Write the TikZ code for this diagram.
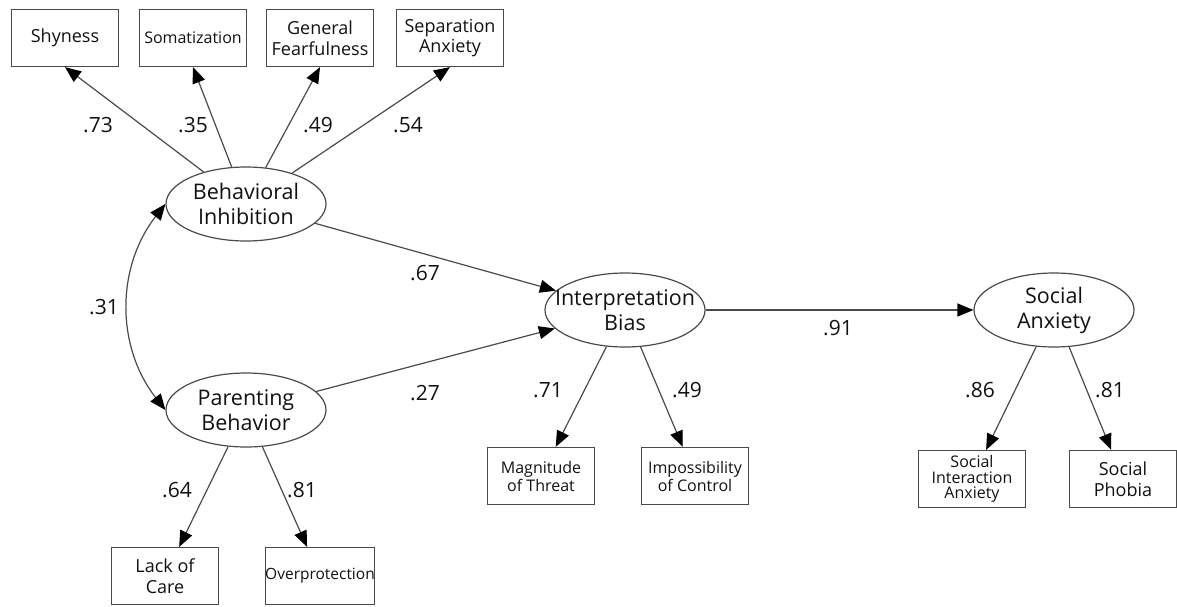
\documentclass[tikz,border=0pt]{standalone}
\usepackage{fontspec}
\setmainfont{Open Sans}
\usetikzlibrary{arrows.meta,shapes.geometric}
\definecolor{linecol}{HTML}{4A4A4A}
\definecolor{txtcol}{HTML}{111111}
\begin{document}
\begin{tikzpicture}[x=1pt,y=-1pt,
  lat/.style={ellipse,draw=linecol,line width=1.2pt,minimum width=160pt,minimum height=74pt,inner sep=0pt},
  lattext/.style={align=center,inner sep=0pt,text=txtcol,font=\fontsize{21.5}{25}\selectfont},
  obs/.style={rectangle,draw=linecol,line width=1.2pt,minimum width=107pt,minimum height=57pt,inner sep=0pt,align=center,text=txtcol,font=\fontsize{18}{20.5}\selectfont},
  obssmall/.style={obs,font=\fontsize{16}{18}\selectfont},
  arr/.style={draw=linecol,line width=1.2pt,-{Triangle[length=16pt,width=13pt,color=black]}},
  arrboth/.style={draw=linecol,line width=1.2pt,{Triangle[length=16pt,width=13pt,color=black]}-{Triangle[length=16pt,width=13pt,color=black]}},
  coef/.style={inner sep=0pt,text=txtcol,font=\fontsize{21}{24}\selectfont}]
\useasboundingbox (0,0) rectangle (1177,606);

% latent variables
\node[lat] (BI) at (246,204) {};
\node[lattext] (BIt) at (BI) {Behavioral\\Inhibition};
\node[lat] (PB) at (246,410) {};
\node[lattext] (PBt) at (PB) {Parenting\\Behavior};
\node[lat] (IB) at (625,310) {};
\node[lattext] (IBt) at (IB) {Interpretation\\Bias};
\node[lat] (SA) at (1054,310) {};
\node[lattext] (SAt) at (SA) {Social\\Anxiety};

% observed variables
\node[obs] (SHY) at (65,38) {Shyness};
\node[obssmall] (SOM) at (193,38) {Somatization};
\node[obs] (GF) at (320,38) {General\\Fearfulness};
\node[obs] (SEP) at (450,38) {Separation\\Anxiety};
\node[obs] (LOC) at (165,576) {Lack of\\Care};
\node[obssmall,font=\fontsize{15.5}{18}\selectfont] (OVP) at (320,576) {Overprotection};
\node[obssmall] (MAG) at (541,476) {Magnitude\\of Threat};
\node[obssmall] (IMP) at (695,476) {Impossibility\\of Control};
\node[obssmall,font=\fontsize{16}{15.5}\selectfont] (SIA) at (972,479) {Social\\Interaction\\Anxiety};
\node[obs] (SP) at (1123,479) {Social\\Phobia};

% loadings
\draw[arr] (BI) -- (SHY.south);
\draw[arr] (BI) -- (SOM.south);
\draw[arr] (BI) -- (GF.south);
\draw[arr] (BI) -- (SEP.south);
\draw[arr] (PB) -- (LOC);
\draw[arr] (PB) -- (OVP);
\draw[arr] (IB) -- (MAG);
\draw[arr] (IB) -- (IMP);
\draw[arr] (SA) -- (SIA);
\draw[arr] (SA) -- (SP);

% structural paths
\draw[arr] (BI) -- (IB);
\draw[arr] (PB) -- (IB);
\draw[arr] (IB) -- (SA);
\draw[arrboth] (BI.west) to[bend right=38] (PB.west);

% coefficients
\node[coef] (c1) at (98,125) {.73};
\node[coef] (c2) at (193,125) {.35};
\node[coef] (c3) at (318,125) {.49};
\node[coef] (c4) at (408,125) {.54};
\node[coef] (c5) at (425,273) {.67};
\node[coef] (c6) at (425,393) {.27};
\node[coef] (c7) at (104,307) {.31};
\node[coef] (c8) at (177,490) {.64};
\node[coef] (c9) at (302,490) {.81};
\node[coef] (c10) at (548,390) {.71};
\node[coef] (c11) at (687,390) {.49};
\node[coef] (c12) at (838,328) {.91};
\node[coef] (c13) at (980,390) {.86};
\node[coef] (c14) at (1110,390) {.81};
\end{tikzpicture}
\end{document}
